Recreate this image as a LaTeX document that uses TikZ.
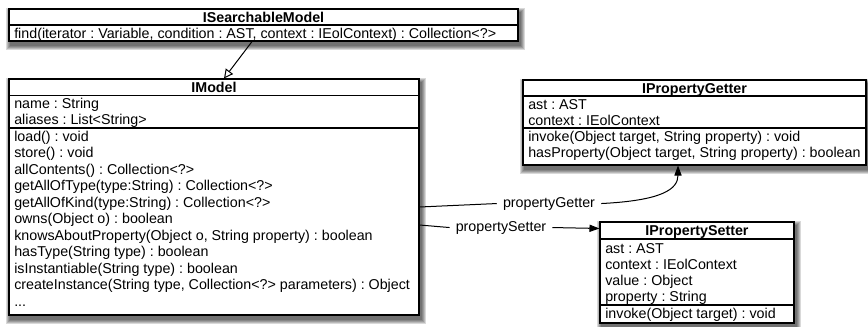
\documentclass[tikz,border=0pt]{standalone}
\usepackage{fontspec}
\setmainfont{Liberation Sans}
\frenchspacing
\usetikzlibrary{arrows.meta,calc,fit,backgrounds}

\begin{document}
\begin{tikzpicture}[x=0.75pt,y=-0.75pt,
  font=\fontsize{10.7pt}{12.8pt}\selectfont,
  classbox/.style={draw=black, line width=0.8pt, fill=white, inner sep=0pt},
  divider/.style={draw=black, line width=0.8pt},
  title/.style={font=\fontsize{10.7pt}{12.8pt}\selectfont\bfseries,
                inner sep=0pt, anchor=base},
  member/.style={inner sep=0pt, anchor=base west},
  rolelabel/.style={inner xsep=4.5pt, inner ysep=0pt, anchor=base,
                    text height=0.72em, text depth=0.2em},
  link/.style={draw=black, line width=0.75pt},
  realizes/.style={link, -{Triangle[open, length=6.8pt, width=6.8pt]}},
  navigates/.style={link, -{Triangle[length=7.5pt, width=5.4pt]}},
  shadowlayer/.style={fill=black, fill opacity=0.15, draw=none},
]
\useasboundingbox (0,0) rectangle (868,326);

% ---- ISearchableModel ----
\node[classbox, fit={(9,9) (518,41)}] (isearch) {};
\draw[divider] (9,25) -- (518,25);
\node[title] (isearch-t) at (263.5,22) {ISearchableModel};
\node[member] (isearch-m1) at (14,38)
  {find(iterator : Variable, condition : AST, context : IEolContext) : Collection<?>};

% ---- IModel ----
\node[classbox, fit={(9,79) (419,315)}] (imodel) {};
\draw[divider] (9,95.5) -- (419,95.5);
\draw[divider] (9,128) -- (419,128);
\node[title] (imodel-t) at (214,92.5) {IModel};
\node[member] (imodel-a1) at (14,108.5) {name : String};
\node[member] (imodel-a2) at (14,124.5) {aliases : List<String>};
\foreach \op [count=\i] in {
    load() : void,
    store() : void,
    allContents() : Collection<?>,
    getAllOfType(type:String) : Collection<?>,
    getAllOfKind(type:String) : Collection<?>,
    owns(Object o) : boolean,
    {knowsAboutProperty(Object o, String property) : boolean},
    hasType(String type) : boolean,
    isInstantiable(String type) : boolean,
    {createInstance(String type, Collection<?> parameters) : Object}}
  \node[member] (imodel-m\i) at (14,{141.5+16.45*(\i-1)}) {\op};
\node[member] (imodel-more) at (14,306) {...};

% ---- IPropertyGetter ----
\node[classbox, fit={(523,80) (866,165)}] (getter) {};
\draw[divider] (523,96) -- (866,96);
\draw[divider] (523,128) -- (866,128);
\node[title] (getter-t) at (694.5,93) {IPropertyGetter};
\node[member] (getter-a1) at (528,109) {ast : AST};
\node[member] (getter-a2) at (528,125) {context : IEolContext};
\node[member] (getter-m1) at (528,141.5) {invoke(Object target, String property) : void};
\node[member] (getter-m2) at (528,157.5) {hasProperty(Object target, String property) : boolean};

% ---- IPropertySetter ----
\node[classbox, fit={(600,222) (794,323)}] (setter) {};
\draw[divider] (600,239) -- (794,239);
\draw[divider] (600,305) -- (794,305);
\node[title] (setter-t) at (697,235.5) {IPropertySetter};
\node[member] (setter-a1) at (605,253) {ast : AST};
\node[member] (setter-a2) at (605,269) {context : IEolContext};
\node[member] (setter-a3) at (605,285) {value : Object};
\node[member] (setter-a4) at (605,301) {property : String};
\node[member] (setter-m1) at (605,318.5) {invoke(Object target) : void};

% ---- soft drop shadows behind the class boxes ----
\begin{scope}[on background layer]
  \foreach \cls in {isearch,imodel,getter,setter}
    \foreach \r in {0,1,2,3,4}
      \fill[shadowlayer] ($(\cls.south west)+(2-\r,4+\r)$)
                         rectangle ($(\cls.north east)+(2+\r,4-\r)$);
\end{scope}

% ---- generalisation ----
\coordinate (inh-from) at ($(isearch.south)+(-11.5,0)$);
\coordinate (inh-to) at ($(imodel.north)+(10,0)$);
\draw[realizes] (inh-from) -- (inh-to);

% ---- propertyGetter association ----
\node[rolelabel] (glabel) at (549,207) {propertyGetter};
\coordinate (g-from) at ($(imodel.east)+(0,10)$);
\coordinate (g-to) at ($(getter.south)+(-16.5,0)$);
\draw[link] (g-from) -- (glabel.west);
\draw[navigates] (glabel.east) .. controls +(60,-3) and +(0,24) .. (g-to);

% ---- propertySetter association ----
\node[rolelabel] (slabel) at (501,231) {propertySetter};
\coordinate (s-from) at ($(imodel.east)+(0,28)$);
\coordinate (s-to) at ($(setter.north west)+(0,7)$);
\draw[link] (s-from) -- (slabel.west);
\draw[navigates] (slabel.east) -- (s-to);
\end{tikzpicture}
\end{document}
